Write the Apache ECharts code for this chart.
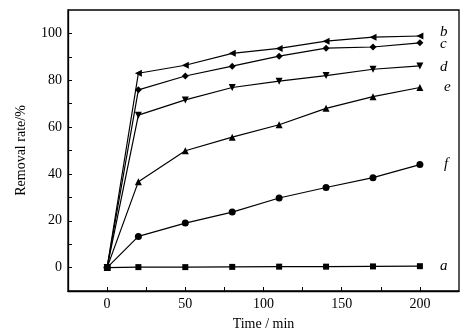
<!DOCTYPE html>
<html><head><meta charset="utf-8">
<script src="https://cdn.jsdelivr.net/npm/echarts@6/dist/echarts.min.js"></script>
<style>html,body{margin:0;padding:0;background:#fff}#c{width:469px;height:336px}</style>
</head><body><div id="c"></div>
<script>
const times = [0, 20, 50, 80, 110, 140, 170, 200];
const seriesA = [0, 0.2, 0.2, 0.3, 0.4, 0.4, 0.5, 0.6];
const seriesB = [0, 83, 86.4, 91.5, 93.6, 96.7, 98.4, 98.9];
const seriesC = [0, 75.9, 81.8, 86, 90.3, 93.7, 94.2, 96];
const seriesD = [0, 65.1, 71.6, 76.9, 79.6, 82, 84.7, 86.1];
const seriesE = [0, 36.7, 49.9, 55.7, 61, 68, 73, 76.9];
const seriesF = [0, 13.3, 19, 23.7, 29.7, 34.2, 38.4, 44];
const xTickLabels = [0, 50, 100, 150, 200];
const xTicks = [0, 25, 50, 75, 100, 125, 150, 175, 200];
const yTickLabels = [0, 20, 40, 60, 80, 100];
const yTicks = [0, 10, 20, 30, 40, 50, 60, 70, 80, 90, 100];

const font = 'Liberation Serif';
function mk(name, vals, symbol, rot, size, label, off) {
  return {
    name: name, type: 'line',
    data: times.map((t, i) => [t, vals[i]]),
    symbol: symbol, symbolRotate: rot, symbolSize: size,
    lineStyle: {color: '#000', width: 1.2},
    itemStyle: {color: '#000'},
    endLabel: {show: true, formatter: label, fontFamily: font, fontStyle: 'italic', fontSize: 15, color: '#000', offset: off},
    animation: false
  };
}
const chart = echarts.init(document.getElementById('c'));
chart.setOption({
  backgroundColor: '#fff',
  grid: {left: 68, right: 10, top: 10, bottom: 43, show: true, borderColor: '#000', borderWidth: 1.3},
  xAxis: {
    type: 'value', min: -25, max: 225,
    name: 'Time / min', nameLocation: 'middle', nameGap: 26,
    nameTextStyle: {fontFamily: font, fontSize: 14, color: '#000'},
    axisLine: {onZero: false, lineStyle: {color: '#000', width: 1.3}},
    axisTick: {inside: true, length: 4, customValues: xTicks, lineStyle: {color: '#000'}},
    axisLabel: {customValues: xTickLabels, fontFamily: font, fontSize: 14, color: '#000', margin: 6},
    splitLine: {show: false}
  },
  yAxis: {
    type: 'value', min: -10, max: 110,
    name: 'Removal rate/%', nameLocation: 'middle', nameGap: 40,
    nameTextStyle: {fontFamily: font, fontSize: 14, color: '#000'},
    axisLine: {onZero: false, lineStyle: {color: '#000', width: 1.3}},
    axisTick: {inside: true, length: 4, customValues: yTicks, lineStyle: {color: '#000'}},
    axisLabel: {customValues: yTickLabels, fontFamily: font, fontSize: 14, color: '#000', margin: 6},
    splitLine: {show: false}
  },
  series: [
    mk('a', seriesA, 'rect', 0, 6, 'a', [12, 0]),
    mk('b', seriesB, 'triangle', 90, 7, 'b', [12, -4]),
    mk('c', seriesC, 'diamond', 0, 7, 'c', [12, 1]),
    mk('d', seriesD, 'triangle', 180, 7, 'd', [12, 1]),
    mk('e', seriesE, 'triangle', 0, 7, 'e', [16, 0]),
    mk('f', seriesF, 'circle', 0, 7, 'f', [16, 0])
  ]
});
</script></body></html>
